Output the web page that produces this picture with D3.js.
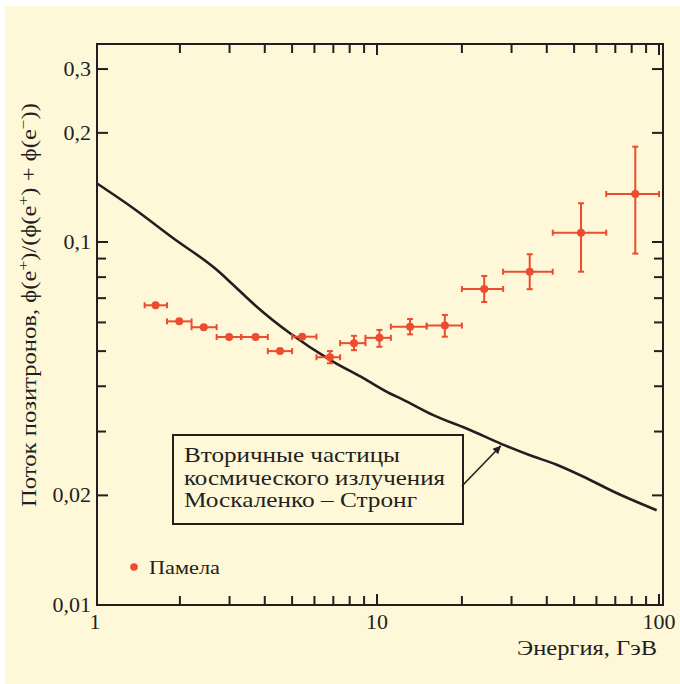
<!DOCTYPE html>
<html>
<head>
<meta charset="utf-8">
<script src="https://cdn.jsdelivr.net/npm/d3@7/dist/d3.min.js"></script>
<style>
  html, body { margin: 0; padding: 0; background: #fff; }
  svg text { font-family: "Liberation Serif", "DejaVu Serif", serif; fill: #231f20; }
</style>
</head>
<body>
<div id="chart"></div>
<script>
// PAMELA positron fraction, energy bins (GeV)
const energy = [1.64, 1.99, 2.43, 2.99, 3.71, 4.53, 5.43, 6.81, 8.29, 10.2, 13.1, 17.4, 24.0, 34.8, 52.9, 82.4];
const energyLo = [1.5, 1.8, 2.2, 2.7, 3.3, 4.1, 5.0, 6.1, 7.4, 9.1, 11.2, 15.0, 20.0, 28.0, 42.0, 65.0];
const energyHi = [1.8, 2.2, 2.7, 3.3, 4.1, 5.0, 6.1, 7.4, 9.1, 11.2, 15.0, 20.0, 28.0, 42.0, 65.0, 100.0];
const fraction = [0.0669, 0.0604, 0.0582, 0.0547, 0.0547, 0.0500, 0.0548, 0.0481, 0.0526, 0.0544, 0.0584, 0.0588, 0.0742, 0.0828, 0.1061, 0.1357];
const fractionLo = [0.0669, 0.0604, 0.0582, 0.0547, 0.0547, 0.0500, 0.0548, 0.0463, 0.0503, 0.0514, 0.0556, 0.0548, 0.0683, 0.0741, 0.0828, 0.0929];
const fractionHi = [0.0669, 0.0604, 0.0582, 0.0547, 0.0547, 0.0500, 0.0548, 0.0500, 0.0551, 0.0572, 0.0613, 0.0629, 0.0806, 0.0925, 0.1279, 0.1832];

// secondary production curve (Moskalenko - Strong)
const curveE = [1.014, 1.367, 1.895, 2.702, 3.094, 3.745, 4.915, 6.813, 8.943, 11.12, 12.40, 15.84, 21.37, 27.69, 34.87, 43.37, 55.41, 68.84, 98.1];
const curveF = [0.1452, 0.1239, 0.1024, 0.0838, 0.0761, 0.0663, 0.0560, 0.0473, 0.0421, 0.0382, 0.0367, 0.0333, 0.0303, 0.0277, 0.0258, 0.0243, 0.0223, 0.0205, 0.0182];

const xMajor = [1, 10, 100];
const xMajorLabels = ["1", "10", "100"];
const xMinor = [2, 3, 4, 5, 6, 7, 8, 9, 20, 30, 40, 50, 60, 70, 80, 90];
const yMajor = [0.01, 0.02, 0.1, 0.2, 0.3];
const yMajorLabels = ["0,01", "0,02", "0,1", "0,2", "0,3"];
const yMinor = [0.03, 0.04, 0.05, 0.06, 0.07, 0.08, 0.09];

const noteLines = ["Вторичные частицы", "космического излучения", "Москаленко – Стронг"];
const noteWidths = [216, 261, 233];
const legendLabel = "Памела";

const W = 680, H = 684;
const frame = { left: 97, right: 663, top: 44, bottom: 605 };
const ink = "#231f20";
const red = "#ec4c30";

const svg = d3.select("#chart").append("svg")
    .attr("width", W)
    .attr("height", H);

svg.append("rect")
    .attr("x", 5).attr("y", 6)
    .attr("width", W - 5).attr("height", H - 6)
    .attr("fill", "#fef8d8");

const x = d3.scaleLog().domain([1, 100]).range([95, 659]);
const y = d3.scaleLog().domain([0.01, 0.1]).range([604.5, 242]);

// ticks, all pointing inward
let ticks = svg.append("g").attr("stroke", ink).attr("stroke-width", 2);
let xt = xMajor.slice(1).map(v => ({ v, len: 11 })).concat(xMinor.map(v => ({ v, len: 9 })));
ticks.selectAll(".xb").data(xt).enter().append("line")
    .attr("x1", d => x(d.v)).attr("x2", d => x(d.v))
    .attr("y1", frame.bottom).attr("y2", d => frame.bottom - d.len);
ticks.selectAll(".xt").data(xt).enter().append("line")
    .attr("x1", d => x(d.v)).attr("x2", d => x(d.v))
    .attr("y1", frame.top).attr("y2", d => frame.top + d.len);
let yt = yMajor.slice(1).map(v => ({ v, len: 11 })).concat(yMinor.map(v => ({ v, len: 9 })));
ticks.selectAll(".yl").data(yt).enter().append("line")
    .attr("y1", d => y(d.v)).attr("y2", d => y(d.v))
    .attr("x1", frame.left).attr("x2", d => frame.left + d.len);
ticks.selectAll(".yr").data(yt).enter().append("line")
    .attr("y1", d => y(d.v)).attr("y2", d => y(d.v))
    .attr("x1", frame.right).attr("x2", d => frame.right - d.len);

svg.append("rect")
    .attr("x", frame.left).attr("y", frame.top)
    .attr("width", frame.right - frame.left)
    .attr("height", frame.bottom - frame.top)
    .attr("fill", "none")
    .attr("stroke", ink)
    .attr("stroke-width", 2);

// tick labels
svg.selectAll(".xl").data(xMajor).enter().append("text")
    .attr("x", d => x(d)).attr("y", 629)
    .attr("text-anchor", "middle")
    .attr("font-size", 22)
    .text((d, i) => xMajorLabels[i]);
svg.selectAll(".yl").data(yMajor).enter().append("text")
    .attr("x", 91).attr("y", d => y(d) + 7)
    .attr("text-anchor", "end")
    .attr("font-size", 22)
    .text((d, i) => yMajorLabels[i]);

// axis titles (the original cyrillic face is wider than Times, so stretch)
svg.append("text")
    .attr("x", 517).attr("y", 655)
    .attr("font-size", 22)
    .attr("textLength", 140)
    .attr("lengthAdjust", "spacingAndGlyphs")
    .text("Энергия, ГэВ");

let yTitle = svg.append("text")
    .attr("transform", "translate(36,507) rotate(-90)")
    .attr("font-size", 20)
    .attr("textLength", 404)
    .attr("lengthAdjust", "spacingAndGlyphs");
yTitle.append("tspan").text("Поток позитронов, ϕ(e");
yTitle.append("tspan").attr("dy", -8).attr("font-size", 14).text("+");
yTitle.append("tspan").attr("dy", 8).text(")/(ϕ(e");
yTitle.append("tspan").attr("dy", -8).attr("font-size", 14).text("+");
yTitle.append("tspan").attr("dy", 8).text(") + ϕ(e");
yTitle.append("tspan").attr("dy", -8).attr("font-size", 14).text("−");
yTitle.append("tspan").attr("dy", 8).text("))");

// model curve
svg.append("path")
    .datum(curveE.map((e, i) => [e, curveF[i]]))
    .attr("fill", "none")
    .attr("stroke", ink)
    .attr("stroke-width", 2.6)
    .attr("stroke-linejoin", "round")
    .attr("d", d3.line().x(d => x(d[0])).y(d => y(d[1])).curve(d3.curveMonotoneX));

// data with error bars
let pts = energy.map((e, i) => ({
    e, f: fraction[i], elo: energyLo[i], ehi: energyHi[i], flo: fractionLo[i], fhi: fractionHi[i]
}));
let bars = svg.append("g").attr("stroke", red).attr("stroke-width", 2);
bars.selectAll(".h").data(pts).enter().append("line")
    .attr("x1", d => x(d.elo)).attr("x2", d => x(d.ehi))
    .attr("y1", d => y(d.f)).attr("y2", d => y(d.f));
bars.selectAll(".hc1").data(pts).enter().append("line")
    .attr("x1", d => x(d.elo)).attr("x2", d => x(d.elo))
    .attr("y1", d => y(d.f) - 3).attr("y2", d => y(d.f) + 3);
bars.selectAll(".hc2").data(pts).enter().append("line")
    .attr("x1", d => x(d.ehi)).attr("x2", d => x(d.ehi))
    .attr("y1", d => y(d.f) - 3).attr("y2", d => y(d.f) + 3);
let vpts = pts.filter(d => d.fhi > d.flo);
bars.selectAll(".v").data(vpts).enter().append("line")
    .attr("x1", d => x(d.e)).attr("x2", d => x(d.e))
    .attr("y1", d => y(d.flo)).attr("y2", d => y(d.fhi));
bars.selectAll(".vc1").data(vpts).enter().append("line")
    .attr("x1", d => x(d.e) - 3).attr("x2", d => x(d.e) + 3)
    .attr("y1", d => y(d.flo)).attr("y2", d => y(d.flo));
bars.selectAll(".vc2").data(vpts).enter().append("line")
    .attr("x1", d => x(d.e) - 3).attr("x2", d => x(d.e) + 3)
    .attr("y1", d => y(d.fhi)).attr("y2", d => y(d.fhi));
svg.selectAll(".dot").data(pts).enter().append("circle")
    .attr("cx", d => x(d.e)).attr("cy", d => y(d.f))
    .attr("r", 4)
    .attr("fill", red);

// note box with arrow to the curve
svg.append("rect")
    .attr("x", 173).attr("y", 435)
    .attr("width", 290).attr("height", 89)
    .attr("fill", "none")
    .attr("stroke", ink)
    .attr("stroke-width", 2);
svg.selectAll(".note").data(noteLines).enter().append("text")
    .attr("x", 184).attr("y", (d, i) => 462 + i * 22.5)
    .attr("font-size", 21)
    .attr("textLength", (d, i) => noteWidths[i])
    .attr("lengthAdjust", "spacingAndGlyphs")
    .text(d => d);

svg.append("defs").append("marker")
    .attr("id", "head")
    .attr("viewBox", "0 0 10 10")
    .attr("refX", 10).attr("refY", 5)
    .attr("markerWidth", 10).attr("markerHeight", 8)
    .attr("markerUnits", "userSpaceOnUse")
    .attr("orient", "auto")
    .append("path")
    .attr("d", "M0,0 L10,5 L0,10 Z")
    .attr("fill", ink);
svg.append("line")
    .attr("x1", 462).attr("y1", 486)
    .attr("x2", x(27.5)).attr("y2", y(0.0274))
    .attr("stroke", ink)
    .attr("stroke-width", 1.6)
    .attr("marker-end", "url(#head)");

// legend
svg.append("circle")
    .attr("cx", 134).attr("cy", 567).attr("r", 3.8)
    .attr("fill", red);
svg.append("text")
    .attr("x", 149).attr("y", 574)
    .attr("font-size", 19)
    .attr("textLength", 71)
    .attr("lengthAdjust", "spacingAndGlyphs")
    .text(legendLabel);
</script>
</body>
</html>
